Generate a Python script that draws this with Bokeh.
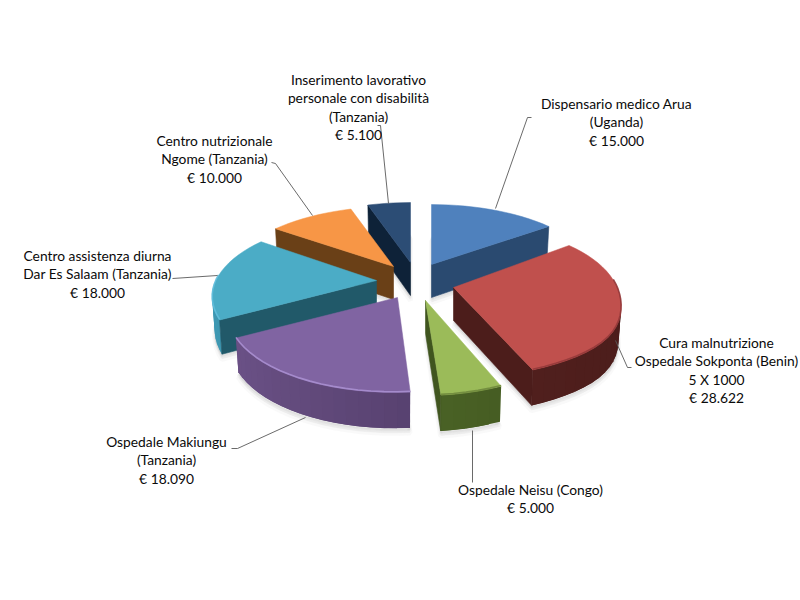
import math
from bokeh.plotting import figure
from bokeh.models import Range1d
from bokeh.core.properties import value
from bokeh.embed import file_html
from bokeh.resources import INLINE

# ---- data (clockwise from 12 o'clock) ----
names = [
    ["Dispensario medico Arua", "(Uganda)"],
    ["Cura malnutrizione", "Ospedale Sokponta (Benin)", "5 X 1000"],
    ["Ospedale Neisu (Congo)"],
    ["Ospedale Makiungu", "(Tanzania)"],
    ["Centro assistenza diurna", "Dar Es Salaam (Tanzania)"],
    ["Centro nutrizionale", "Ngome (Tanzania)"],
    ["Inserimento lavorativo", "personale con disabilità", "(Tanzania)"],
]
amounts = [15000, 28622, 5000, 18090, 18000, 10000, 5100]

# ---- styles and layout (page pixels) ----
top_colors = ["#4f81bd", "#c0504d", "#9bbb59", "#8064a2", "#4bacc6", "#f79646", "#2c4d75"]
side_left = ["#2b4c74", "#5a2422", "#55702c", "#6d5389", "#3f9ab5", "#704419", "#10253c"]
side_right = ["#2a4a70", "#4c1d1b", "#40551f", "#47345c", "#215969", "#6a4017", "#0e2238"]
cut_face = ["#2a4a70", "#4c1d1b", "#40551f", "#47345c", "#215969", "#6a4017", "#0e2238"]
bevel = ["#5f90c9", "#93393a", "#70893d", "#a88fd0", "#62bedb", "#f7a25d", "#34587f"]
apex = [(431, 264), (453, 287), (425, 300), (397, 297), (376, 280), (393, 266), (410, 262)]
rim_shift = [(0, 0), (0, -4), (-1, 0), (-4, 0), (-1, -1), (0, 0), (0, 0)]
rim_scale = [1.0, 0.985, 0.96, 0.98, 0.97, 1.0, 1.0]
rim_bulge = [0.0, 0.04, 0.0, 0.0, 0.0, 0.0, 0.0]
draw_order = [6, 5, 4, 3, 0, 1, 2]
RX, RY, PERSP, DEPTH = 164.0, 73.5, 0.226, 33.0
label_x = [616, 716, 530, 166, 97, 214, 358]
label_y = [103, 342, 489, 441, 255, 140, 79]
line_h = 18.4
leaders = [
    [(495, 208), (527, 117), (531, 117)],
    [(615, 340), (627, 367), (631, 367)],
    [(472, 430), (472, 482)],
    [(305, 417), (237, 448), (231, 448)],
    [(217, 275), (172, 278)],
    [(312, 215), (275, 163), (271, 162)],
    [(388, 203), (380, 125), (377, 125)],
]


def rim(k, th, low=False):
    w = 1 + PERSP * math.cos(th)
    bump = 1 + rim_bulge[k] * math.exp(-((th - math.radians(130)) / math.radians(22)) ** 2)
    dx = bump * RX * rim_scale[k] * math.sin(th) / w
    dy = -bump * RY * math.cos(th) / w
    ax, ay = apex[k]
    ax += rim_shift[k][0]
    ay += rim_shift[k][1]
    if low:
        return ax + dx * 0.985, ay + dy * 1.03 + DEPTH
    return ax + dx, ay + dy


def mix(a, b, t):
    ca = [int(a[i:i + 2], 16) for i in (1, 3, 5)]
    cb = [int(b[i:i + 2], 16) for i in (1, 3, 5)]
    return "#%02x%02x%02x" % tuple(round(x + (y - x) * t) for x, y in zip(ca, cb))


p = figure(width=800, height=600, x_range=Range1d(0, 800), y_range=Range1d(600, 0),
           x_axis_type=None, y_axis_type=None, toolbar_location=None,
           output_backend="svg", min_border=0, outline_line_color=None,
           background_fill_color="white", border_fill_color="white")
p.grid.visible = False

total = float(sum(amounts))
starts, ends = [], []
acc = 0.0
for v in amounts:
    starts.append(acc / total * 2 * math.pi)
    acc += v
    ends.append(acc / total * 2 * math.pi)


def arc_angles(a, b, n=48):
    m = max(2, int(n * (b - a) / math.pi) + 2)
    return [a + (b - a) * i / (m - 1) for i in range(m)]


# soft ground shadow
for k in draw_order:
    ths = arc_angles(starts[k], ends[k])
    pts = [rim(k, t, True) for t in ths] + [(apex[k][0], apex[k][1] + DEPTH)]
    for grow, alpha in ((5, 0.05), (3, 0.06), (1.5, 0.08)):
        p.patch([x for x, y in pts], [y + grow for x, y in pts], fill_color="#808080",
                fill_alpha=alpha, line_color="#808080", line_alpha=alpha, line_width=grow)

for k in draw_order:
    a, b = starts[k], ends[k]
    ax, ay = apex[k]
    # visible rim: overlapping quads, no stroke, so no seams
    ths = arc_angles(a, b)
    vis = [t for t in ths if math.cos(t) < 0.1]
    if len(vis) > 1:
        if math.sin(vis[0]) < 0:
            vis = vis[::-1]
        for i in range(len(vis) - 1):
            t0, t1 = vis[i], vis[min(i + 2, len(vis) - 1)]
            u0, v0 = rim(k, t0)
            u1, v1 = rim(k, t1)
            u2, v2 = rim(k, t1, True)
            u3, v3 = rim(k, t0, True)
            c = mix(side_left[k], side_right[k], (math.sin(vis[i]) + 1) / 2)
            p.patch([u0, u1, u2, u3], [v0, v1, v2, v3], fill_color=c, line_color=None)
    # visible cut faces
    for th, visible in ((a, math.sin(a) < -1e-6), (b, math.sin(b) > 1e-6)):
        if visible:
            u0, v0 = rim(k, th)
            u1, v1 = rim(k, th, True)
            c = cut_face[k]
            p.patch([ax, u0, u1, ax], [ay, v0, v1, ay + DEPTH], fill_color=c, line_color=c, line_width=0.6)
    # top face
    pts = [rim(k, t) for t in ths] + [(ax, ay)]
    p.patch([x for x, y in pts], [y for x, y in pts], fill_color=top_colors[k],
            line_color=top_colors[k], line_width=0.5)
    # bevel on the front arc
    front = [rim(k, t) for t in ths if math.cos(t) < 0.1]
    if len(front) > 1:
        p.line([x for x, y in front], [y - 0.7 for x, y in front], line_color=bevel[k],
               line_width=1.6, line_alpha=0.9)

# leader lines
for pts in leaders:
    p.line([x for x, y in pts], [y for x, y in pts], line_color="#595959", line_width=0.9)

# labels
xs, ys, texts = [], [], []
for k, rows in enumerate(names):
    euro = "€ " + f"{amounts[k]:,}".replace(",", ".")
    for i, row in enumerate(rows + [euro]):
        xs.append(label_x[k])
        ys.append(label_y[k] + i * line_h)
        texts.append(row)
p.text(xs, ys, text=texts, text_align="center", text_baseline="middle",
       text_font=value("Lato"), text_font_size="13.8px", text_color="#0a0a0a")

open("out.html", "w").write(file_html(p, INLINE))
